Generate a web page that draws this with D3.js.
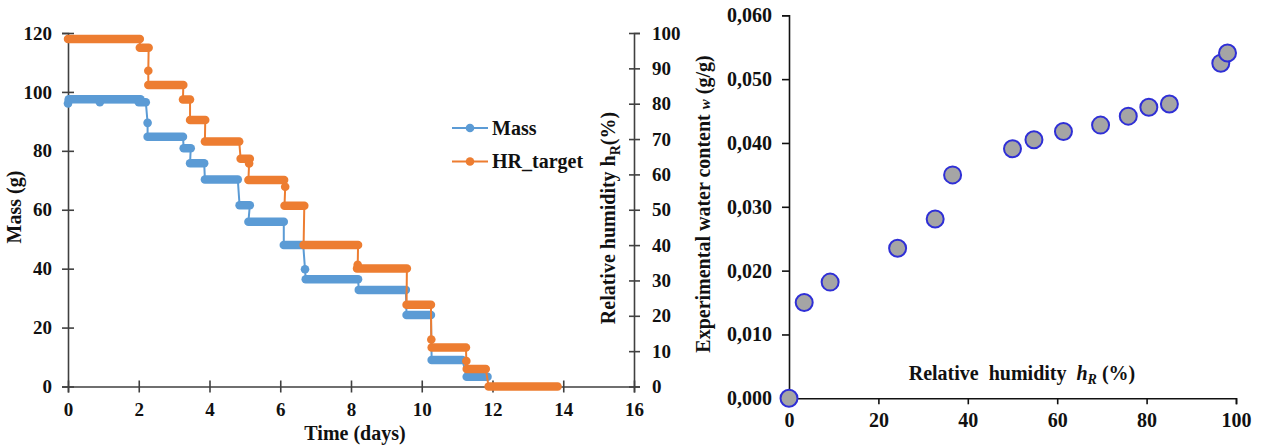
<!DOCTYPE html>
<html>
<head>
<meta charset="utf-8">
<script src="https://cdn.jsdelivr.net/npm/d3@7"></script>
<style>
html,body{margin:0;padding:0;background:#fff;}
svg{display:block;}
svg text{font-family:"Liberation Serif","Times New Roman",serif !important;font-weight:bold;fill:#111;}
</style>
</head>
<body>
<svg id="chart" width="1261" height="446"></svg>
<script>
// ---------- Left chart data (time in days) ----------
const massStart = [0.00, 0.02, 0.90, 2.00, 2.25, 2.25, 3.27, 3.45, 3.87, 4.85, 5.10, 6.10, 6.70, 6.72, 8.22, 9.57, 10.28, 11.27];
const massEnd   = [0.00, 2.05, 0.90, 2.20, 2.25, 3.25, 3.47, 3.85, 4.80, 5.14, 6.10, 6.65, 6.70, 8.20, 9.55, 10.26, 11.15, 11.86];
const massValue = [96.1, 97.5, 96.5, 96.5, 89.5, 84.8, 80.9, 75.8, 70.3, 61.5, 55.9, 48.0, 39.8, 36.4, 32.8, 24.3, 9.0, 3.3];

const hrStart = [0.00, 2.03, 2.27, 2.27, 3.25, 3.45, 3.87, 4.88, 5.12, 5.10, 6.14, 6.12, 6.66, 8.19, 8.17, 9.57, 10.27, 10.28, 11.26, 11.27, 11.89];
const hrEnd   = [2.03, 2.28, 2.27, 3.26, 3.45, 3.88, 4.84, 5.14, 5.12, 6.11, 6.14, 6.68, 8.20, 8.19, 9.58, 10.26, 10.27, 11.25, 11.26, 11.81, 13.84];
const hrValue = [98.3, 95.8, 89.3, 85.3, 81.2, 75.4, 69.3, 64.4, 63.1, 58.4, 56.5, 51.1, 40.0, 34.4, 33.4, 23.1, 13.3, 11.0, 7.2, 4.95, 0.0];

const timeTicks = [0, 2, 4, 6, 8, 10, 12, 14, 16];
const massTicks = [0, 20, 40, 60, 80, 100, 120];
const hrTicks   = [0, 10, 20, 30, 40, 50, 60, 70, 80, 90, 100];
const legendLabels = ["Mass", "HR_target"];

// ---------- Right chart data ----------
const humidity = [0, 3.4, 9.2, 24.3, 32.7, 36.6, 50.0, 54.8, 61.4, 69.7, 75.9, 80.5, 85.1, 96.6, 98.1];
const waterContent = [0.0000, 0.0150, 0.0182, 0.0235, 0.0281, 0.0350, 0.0391, 0.0405, 0.0418, 0.0428, 0.0442, 0.0456, 0.0461, 0.0525, 0.0541];
const humidityTicks = [0, 20, 40, 60, 80, 100];
const waterTicks = [0, 0.01, 0.02, 0.03, 0.04, 0.05, 0.06];

const svg = d3.select("#chart");
const BLUE = "#5b9bd5", ORANGE = "#ed7d31", AXIS = "#404040";
const SERIF = '"Liberation Serif","Times New Roman",serif';

// ================= LEFT CHART =================
const x = d3.scaleLinear().domain([0, 16]).range([68, 634]);
const yL = d3.scaleLinear().domain([0, 120]).range([386.5, 33]);
const yR = d3.scaleLinear().domain([0, 100]).range([386.5, 33]);

function styleAxis(g, fs, col) {
  g.attr("font-family", SERIF).attr("font-size", fs);
  g.select(".domain").attr("stroke", col).attr("stroke-width", 1.6);
  g.selectAll(".tick line").attr("stroke", col).attr("stroke-width", 1.6);
  g.selectAll(".tick text").style("font-size", fs + "px").style("font-family", SERIF)
    .style("font-weight", "bold").attr("fill", "#111");
}

const gxL = svg.append("g").attr("transform", `translate(0,${yL(0)})`)
  .call(d3.axisBottom(x).tickValues(timeTicks).tickSizeOuter(0).tickSize(6).tickPadding(10).tickFormat(d3.format("d")));
styleAxis(gxL, 19, AXIS);
gxL.selectAll(".tick line").attr("y1", -6).attr("y2", 6);

const gyL = svg.append("g").attr("transform", `translate(${x(0)},0)`)
  .call(d3.axisLeft(yL).tickValues(massTicks).tickSizeOuter(0).tickSize(6).tickPadding(10).tickFormat(d3.format("d")));
styleAxis(gyL, 19, AXIS);
gyL.selectAll(".tick line").attr("x1", -6).attr("x2", 6);

const gyR = svg.append("g").attr("transform", `translate(${x(16)},0)`)
  .call(d3.axisRight(yR).tickValues(hrTicks).tickSizeOuter(0).tickSize(6).tickPadding(12).tickFormat(d3.format("d")));
styleAxis(gyR, 19, AXIS);
gyR.selectAll(".tick line").attr("x1", -5).attr("x2", 6);

function drawSteps(starts, ends, vals, yScale, color) {
  const pts = [];
  starts.forEach((s, i) => { pts.push([s, vals[i]]); pts.push([ends[i], vals[i]]); });
  const line = d3.line().x(d => x(d[0])).y(d => yScale(d[1]));
  svg.append("path").attr("d", line(pts)).attr("fill", "none")
    .attr("stroke", color).attr("stroke-width", 2);
  const g = svg.append("g");
  starts.forEach((s, i) => {
    if (ends[i] - s > 0.001) {
      g.append("line")
        .attr("x1", x(s)).attr("x2", x(ends[i]))
        .attr("y1", yScale(vals[i])).attr("y2", yScale(vals[i]))
        .attr("stroke", color).attr("stroke-width", 8.5).attr("stroke-linecap", "round");
    } else {
      g.append("circle").attr("cx", x(s)).attr("cy", yScale(vals[i])).attr("r", 4.3).attr("fill", color);
    }
  });
}
drawSteps(massStart, massEnd, massValue, yL, BLUE);
drawSteps(hrStart, hrEnd, hrValue, yR, ORANGE);

// Legend
const legend = svg.append("g");
[BLUE, ORANGE].forEach((c, i) => {
  const ly = 128 + i * 33.5;
  legend.append("line").attr("x1", 452).attr("x2", 488).attr("y1", ly).attr("y2", ly)
    .attr("stroke", c).attr("stroke-width", 2.2);
  legend.append("circle").attr("cx", 470).attr("cy", ly).attr("r", 4.3).attr("fill", c);
  legend.append("text").attr("x", 492).attr("y", ly + 6.5).style("font-size", "20px").text(legendLabels[i]);
});

// Titles
svg.append("text").attr("x", 355).attr("y", 440).attr("text-anchor", "middle")
  .style("font-size", "20px").text("Time (days)");
svg.append("text").attr("transform", "translate(21,207) rotate(-90)").attr("text-anchor", "middle")
  .style("font-size", "20px").text("Mass (g)");
const rt = svg.append("text").attr("transform", "translate(615,218) rotate(-90)").attr("text-anchor", "middle")
  .style("font-size", "20px");
rt.append("tspan").text("Relative humidity h");
rt.append("tspan").attr("dy", 5).style("font-size", "14px").text("R");
rt.append("tspan").attr("dy", -5).text("(%)");

// ================= RIGHT CHART =================
const xs = d3.scaleLinear().domain([0, 100]).range([789, 1236]);
const ys = d3.scaleLinear().domain([0, 0.06]).range([398.3, 15.3]);
const commaFmt = d => d3.format(".3f")(d).replace(".", ",");

const gxs = svg.append("g").attr("transform", `translate(0,${ys(0)})`)
  .call(d3.axisBottom(xs).tickValues(humidityTicks).tickSizeOuter(0).tickSize(6).tickPadding(9).tickFormat(d3.format("d")));
styleAxis(gxs, 20, "#111");

const gys = svg.append("g").attr("transform", `translate(${xs(0)},0)`)
  .call(d3.axisLeft(ys).tickValues(waterTicks).tickSizeOuter(0).tickSize(7).tickPadding(10).tickFormat(commaFmt));
styleAxis(gys, 20, "#111");

svg.append("g").selectAll("circle").data(humidity).join("circle")
  .attr("cx", (d) => xs(d)).attr("cy", (d, i) => ys(waterContent[i]))
  .attr("r", 8.5).attr("fill", "#a5a5a5").attr("stroke", "#2f2fd6").attr("stroke-width", 2);

const xt = svg.append("text").attr("x", 1022).attr("y", 380).attr("text-anchor", "middle")
  .style("font-size", "20px").style("white-space", "pre");
xt.append("tspan").text("Relative  humidity  ");
xt.append("tspan").style("font-style", "italic").text("h");
xt.append("tspan").attr("dy", 4).style("font-style", "italic").style("font-size", "14px").text("R");
xt.append("tspan").attr("dy", -4).text(" (%)");

const yt = svg.append("text").attr("transform", "translate(710,204) rotate(-90)").attr("text-anchor", "middle")
  .style("font-size", "20px");
yt.append("tspan").text("Experimental water content ");
yt.append("tspan").style("font-style", "italic").style("font-size", "15px").text("w");
yt.append("tspan").text(" (g/g)");
</script>
</body>
</html>
